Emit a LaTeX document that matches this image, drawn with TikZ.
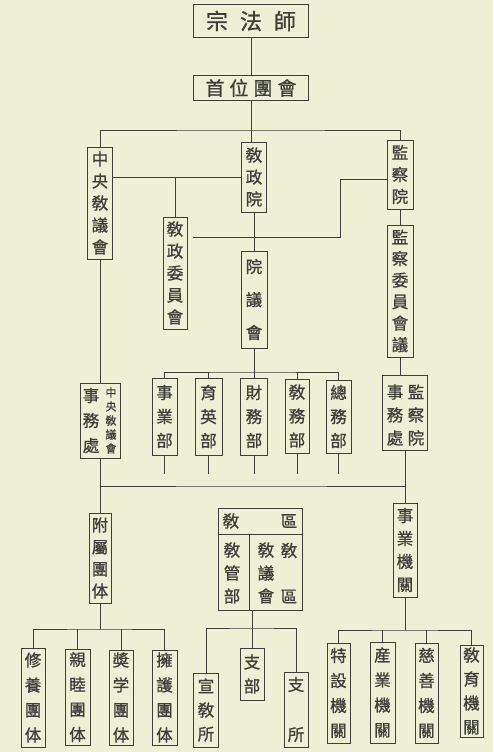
\documentclass[tikz,border=0pt]{standalone}
\usepackage{fontspec}
\newfontfamily\cjk{Noto Sans CJK TC}[FakeBold=0.9]
\definecolor{paper}{HTML}{EEF0D6}
\definecolor{ink}{HTML}{3E3E3A}
\tikzset{
  frame/.style={draw=ink, line width=1pt, inner sep=0pt, align=center, text=ink},
  vt/.style={font=\cjk\fontsize{16.5}{#1}\selectfont},
  vt/.default=23,
  plain/.style={inner sep=0pt, align=center, text=ink},
  wire/.style={draw=ink, line width=0.9pt}
}
\begin{document}
\begin{tikzpicture}[x=1pt, y=-1pt]

    \fill[paper] (0,0) rectangle (493,752);

    % top of the chart
    \node[frame, minimum width=115, minimum height=33, font=\cjk\fontsize{22}{22}\selectfont] (zongshi) at (251, 21) {宗\hspace{12pt}法\hspace{12pt}師};
    \node[frame, minimum width=115, minimum height=25, font=\cjk\fontsize{19}{19}\selectfont] (shouwei) at (251, 88) {首\hspace{5pt}位\hspace{5pt}團\hspace{5pt}會};

    \node[frame, vt=22, minimum width=25, minimum height=112] (zongyang) at (100, 203) {中\\央\\敎\\議\\會};
    \node[frame, vt=22, minimum width=25, minimum height=70] (jiaozheng) at (254, 177) {敎\\政\\院};
    \node[frame, vt=22, minimum width=26, minimum height=69] (jiancha) at (400, 174.5) {監\\察\\院};
    \node[frame, vt=22, minimum width=24, minimum height=112] (weiyuan) at (175, 273) {敎\\政\\委\\員\\會};
    \node[frame, vt=33, minimum width=26, minimum height=97] (yuanyi) at (254, 299.5) {院\\議\\會};
    \node[frame, vt=21.5, minimum width=26, minimum height=132] (jianwei) at (400, 291) {監\\察\\委\\員\\會\\議};

    % offices and departments
    \node[frame, minimum width=40, minimum height=75] (zyshiwu) at (100, 420.5) {};
    \node[plain, vt=25] (zyshiwuL) at (91, 420.5) {事\\務\\處};
    \node[plain, font=\cjk\fontsize{11}{14}\selectfont] (zyshiwuR) at (111, 420.5) {中\\央\\敎\\議\\會};

    \node[frame, vt=24, minimum width=25, minimum height=77] (shiyebu) at (164.5, 416.5) {事\\業\\部};
    \node[frame, vt=24, minimum width=27, minimum height=77] (yuyingbu) at (208.5, 416.5) {育\\英\\部};
    \node[frame, vt=24, minimum width=27, minimum height=77] (caiwubu) at (254, 416.5) {財\\務\\部};
    \node[frame, vt=24, minimum width=24, minimum height=74] (jiaowubu) at (297, 416) {敎\\務\\部};
    \node[frame, vt=24, minimum width=25, minimum height=73] (zongwubu) at (338.5, 416.5) {總\\務\\部};

    \node[frame, minimum width=45, minimum height=75] (jcshiwu) at (405, 412.5) {};
    \node[plain, vt=23] (jcshiwuL) at (395, 415) {事\\務\\處};
    \node[plain, vt=23] (jcshiwuR) at (416, 415) {監\\察\\院};

    % middle row
    \node[frame, vt=22, minimum width=22, minimum height=90] (fushu) at (100, 558) {附\\屬\\團\\体};

    \node[frame, minimum width=84, minimum height=102] (jiaoqu) at (260, 559) {};
    \draw[wire] (218, 534) -- (302, 534);
    \draw[wire] (249, 534) -- (249, 610);
    \node[plain, vt] (jqA) at (231, 521) {敎};
    \node[plain, vt] (jqB) at (289, 521) {區};
    \node[plain, vt=23] (jqC) at (232, 573) {敎\\管\\部};
    \node[plain, vt=23] (jqD) at (266, 573) {敎\\議\\會};
    \node[plain, vt=46] (jqE) at (289, 573) {敎\\區};

    \node[frame, vt=23, minimum width=24, minimum height=94] (shiyejg) at (405, 550) {事\\業\\機\\關};

    % bottom row
    \node[frame, vt=25, minimum width=24, minimum height=99] (xiuyang) at (33, 697.5) {修\\養\\團\\体};
    \node[frame, vt=25, minimum width=25, minimum height=96] (qinmu) at (77.5, 697) {親\\睦\\團\\体};
    \node[frame, vt=25, minimum width=24, minimum height=95] (jiangxue) at (121, 697.5) {奬\\学\\團\\体};
    \node[frame, vt=25, minimum width=25, minimum height=95] (yonghu) at (164.5, 697.5) {擁\\護\\團\\体};

    \node[frame, vt=24, minimum width=25, minimum height=74] (xuanjiao) at (206, 710) {宣\\敎\\所};
    \node[frame, vt=24, minimum width=24, minimum height=52] (zhibu) at (252, 674) {支\\部};
    \node[frame, vt=50, minimum width=24, minimum height=75] (zhisuo) at (296, 709.5) {支\\所};

    \node[frame, vt=25, minimum width=23, minimum height=100] (teshe) at (338.5, 693) {特\\設\\機\\關};
    \node[frame, vt=25, minimum width=25, minimum height=101] (chanye) at (382.5, 692.5) {産\\業\\機\\關};
    \node[frame, vt=25, minimum width=23, minimum height=100] (cishan) at (426.5, 693) {慈\\善\\機\\關};
    \node[frame, vt=24, minimum width=23, minimum height=92] (jiaoyu) at (471.5, 691) {敎\\育\\機\\關};

    % connectors
    \coordinate (b1) at (251, 130);
    \coordinate (b2) at (193, 237);
    \coordinate (b2t) at (340, 179);
    \coordinate (b3) at (254, 372);
    \coordinate (stub) at (0, 474);
    \coordinate (b4) at (250, 486);
    \coordinate (b5) at (100, 629);
    \coordinate (b6) at (252, 628);
    \coordinate (b7) at (405, 630);

    \draw[wire] (zongshi) -- (shouwei);
    \draw[wire] (shouwei.south) -- (shouwei.south |- jiaozheng.north);
    \draw[wire] (zongyang.north) |- (b1) -| (jiancha.north);
    \draw[wire] (zongyang.east |- jiaozheng) -- (jiaozheng.west);
    \draw[wire] (weiyuan.north) -- (weiyuan.north |- jiaozheng);
    \draw[wire] (jiaozheng) -- (yuanyi);
    \draw[wire] (b2) -| (b2t) -- (b2t -| jiancha.west);
    \draw[wire] (jiancha) -- (jianwei);
    \draw[wire] (zongyang) -- (zyshiwu);

    \draw[wire] (shiyebu.north) |- (b3) -| (zongwubu.north);
    \draw[wire] (yuanyi.south) -- (b3);
    \foreach \n in {yuyingbu, caiwubu, jiaowubu}
        \draw[wire] (\n.north) -- (\n.north |- b3);
    \foreach \n in {shiyebu, yuyingbu, caiwubu, jiaowubu, zongwubu}
        \draw[wire] (\n.south) -- (\n.south |- stub);
    \draw[wire] (jianwei.south) -- (jianwei.south |- jcshiwu.north);

    \draw[wire] (zyshiwu.south) |- (b4) -| (shiyejg.north);
    \draw[wire] (jcshiwu.south) -- (jcshiwu.south |- b4);
    \draw[wire] (fushu.north) -- (fushu.north |- b4);

    \draw[wire] (fushu.south) -- (b5);
    \draw[wire] (xiuyang.north) |- (b5) -| (yonghu.north);
    \foreach \n in {qinmu, jiangxue}
        \draw[wire] (\n.north) -- (\n.north |- b5);

    \draw[wire] (b6 |- jiaoqu.south) -- (b6);
    \draw[wire] (xuanjiao.north) |- (b6) -| (zhisuo.north);
    \draw[wire] (zhibu.north) -- (b6);

    \draw[wire] (shiyejg.south) -- (b7);
    \draw[wire] (teshe.north) |- (b7) -| (jiaoyu.north);
    \foreach \n in {chanye, cishan}
        \draw[wire] (\n.north) -- (\n.north |- b7);

\end{tikzpicture}
\end{document}
